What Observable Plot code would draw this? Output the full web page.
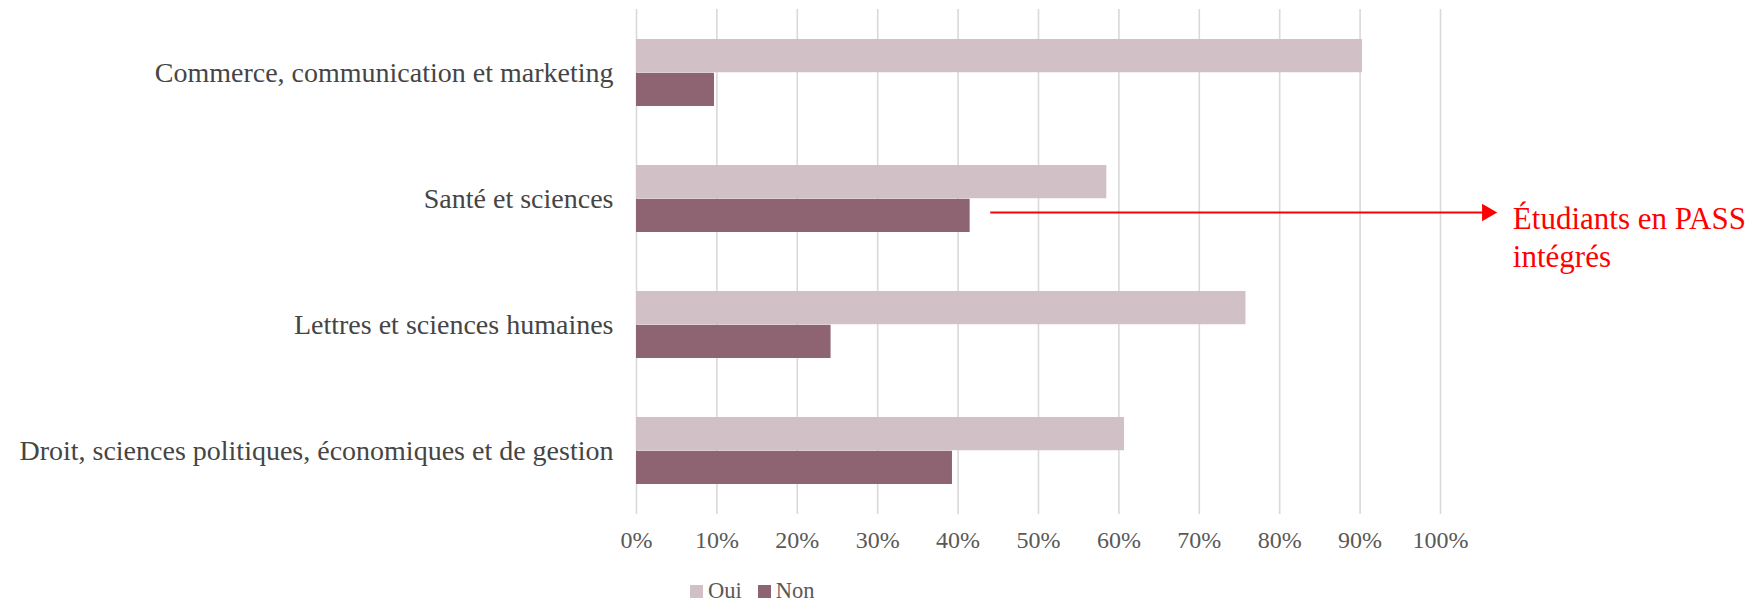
<!DOCTYPE html>
<html>
<head>
<meta charset="utf-8">
<script src="https://cdn.jsdelivr.net/npm/d3@7"></script>
<script src="https://cdn.jsdelivr.net/npm/@observablehq/plot@0.6"></script>
<style>
  html, body { margin: 0; padding: 0; background: #fff; }
  #chart { width: 1760px; }
  .legend { display: flex; align-items: center; height: 42px; padding-left: 690px;
            font-family: "Liberation Serif", "Times New Roman", serif; font-size: 22.5px; color: #595959; }
  .legend .sw { width: 13px; height: 13px; display: inline-block; }
  .legend .lab { margin-left: 5px; margin-right: 16px; }
</style>
</head>
<body>
<div id="chart"></div>
<script>
const categories = [
  "Commerce, communication et marketing",
  "Santé et sciences",
  "Lettres et sciences humaines",
  "Droit, sciences politiques, économiques et de gestion"
];
const oui = [90.3, 58.5, 75.8, 60.7];
const non = [9.7, 41.5, 24.2, 39.3];
const series = ["Oui", "Non"];
const seriesColors = ["#d1c0c6", "#8e6472"];
const xTicks = [0, 10, 20, 30, 40, 50, 60, 70, 80, 90, 100];
const annotation = [{from: 44, to: 105.4, head: 105.8, textAt: 109, category: "Santé et sciences", label: "Étudiants en PASS\nintégrés"}];

const ouiData = categories.map((c, i) => ({category: c, value: oui[i]}));
const nonData = categories.map((c, i) => ({category: c, value: non[i]}));

const W = 1760, H = 570, mt = 9, mb = 56, ml = 636, mr = 320;
const pInner = 0.465, pOuter = 0.2325;
const step = (H - mt - mb) / (categories.length - pInner + 2 * pOuter);
const bw = step * (1 - pInner);

const chart = Plot.plot({
  width: W, height: H,
  marginTop: mt, marginBottom: mb, marginLeft: ml, marginRight: mr,
  style: {fontFamily: '"Liberation Serif", "Times New Roman", serif', color: "#595959", background: "#fff"},
  x: {domain: [0, 100]},
  y: {domain: categories, paddingInner: pInner, paddingOuter: pOuter},
  marks: [
    Plot.gridX(xTicks, {stroke: "#d9d9d9", strokeOpacity: 1, strokeWidth: 1.6}),
    Plot.barX(ouiData, {x: "value", y: "category", fill: seriesColors[0], insetBottom: bw / 2}),
    Plot.barX(nonData, {x: "value", y: "category", fill: seriesColors[1], insetTop: bw / 2}),
    Plot.axisX(xTicks, {tickSize: 0, tickPadding: 16, fontSize: 24, tickFormat: d => d + "%", fill: "#595959", label: null}),
    Plot.axisY({tickSize: 0, tickPadding: 23, fontSize: 28, fill: "#454545", label: null}),
    Plot.link(annotation, {x1: "from", x2: "to", y1: "category", y2: "category", dy: 13.5, stroke: "red", strokeWidth: 2}),
    Plot.dot(annotation, {x: "head", y: "category", dy: 13.5, symbol: "triangle", rotate: 90, r: 6.5, fill: "red", stroke: "none"}),
    Plot.text(annotation, {x: "textAt", y: "category", text: "label", textAnchor: "start", lineAnchor: "top", lineHeight: 1.23, dy: 3, fontSize: 31, fill: "red"})
  ]
});
document.getElementById("chart").appendChild(chart);

const legend = document.createElement("div");
legend.className = "legend";
series.forEach((s, i) => {
  const sw = document.createElement("span");
  sw.className = "sw";
  sw.style.background = seriesColors[i];
  const lab = document.createElement("span");
  lab.className = "lab";
  lab.textContent = s;
  legend.appendChild(sw);
  legend.appendChild(lab);
});
document.getElementById("chart").appendChild(legend);
</script>
</body>
</html>
